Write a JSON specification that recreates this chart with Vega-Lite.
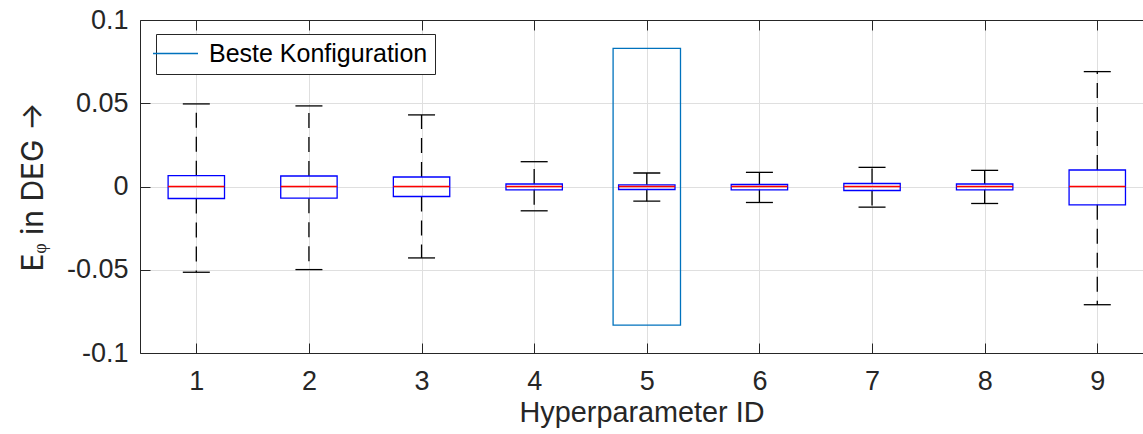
{
  "$schema": "https://vega.github.io/schema/vega-lite/v6.json",
  "width": 1003,
  "height": 333,
  "autosize": {"type": "none"},
  "padding": {"left": 140, "top": 20, "right": 0, "bottom": 81},
  "background": "white",
  "config": {
    "font": "Liberation Sans",
    "view": {"stroke": null},
    "axis": {"domainColor": "#262626", "tickColor": "#262626", "labelColor": "#262626", "titleColor": "#262626", "gridColor": "#dfdfdf", "gridWidth": 1, "domainWidth": 1, "tickWidth": 1, "titleFontWeight": "normal", "labelFont": "Liberation Sans", "titleFont": "Liberation Sans"}
  },
  "datasets": {
    "boxes": [
      {"id": 1, "lower": -0.0515, "q1": -0.0072, "median": 0, "q3": 0.0065, "upper": 0.0496},
      {"id": 2, "lower": -0.0499, "q1": -0.0070, "median": 0, "q3": 0.0063, "upper": 0.0484},
      {"id": 3, "lower": -0.0429, "q1": -0.0060, "median": 0, "q3": 0.0057, "upper": 0.0430},
      {"id": 4, "lower": -0.0146, "q1": -0.0020, "median": 0, "q3": 0.0015, "upper": 0.0149},
      {"id": 5, "lower": -0.0088, "q1": -0.0018, "median": 0, "q3": 0.0010, "upper": 0.0081},
      {"id": 6, "lower": -0.0096, "q1": -0.0020, "median": 0, "q3": 0.0012, "upper": 0.0085},
      {"id": 7, "lower": -0.0124, "q1": -0.0024, "median": 0, "q3": 0.0018, "upper": 0.0115},
      {"id": 8, "lower": -0.0102, "q1": -0.0020, "median": 0, "q3": 0.0015, "upper": 0.0097},
      {"id": 9, "lower": -0.0710, "q1": -0.0110, "median": 0, "q3": 0.0099, "upper": 0.0690}
    ],
    "best": [
      {"id": 5, "low": -0.0833, "high": 0.0829, "label": "Beste Konfiguration"}
    ]
  },
  "resolve": {"axis": {"x": "independent"}},
  "layer": [
    {
      "data": {"name": "best"},
      "mark": {"type": "bar", "filled": false, "width": 67.4, "strokeWidth": 1.3},
      "encoding": {
        "x": {"field": "id", "type": "quantitative",
          "scale": {"domain": [0.5, 9.406], "nice": false, "zero": false, "padding": 0},
          "axis": {"orient": "bottom", "values": [1,2,3,4,5,6,7,8,9], "format": "d", "tickSize": -10, "labelPadding": 25, "labelFontSize": 27, "labelFlush": false, "title": "Hyperparameter ID", "titleFontSize": 28.8, "titlePadding": 4, "grid": true}},
        "y": {"field": "low", "type": "quantitative",
          "scale": {"domain": [-0.1, 0.1], "nice": false, "zero": false, "padding": 0},
          "axis": {"orient": "left", "values": [-0.1, -0.05, 0, 0.05, 0.1], "labelExpr": "replace(format(datum.value, '~g'), '\u2212', '-')", "tickSize": -10, "labelPadding": 22, "labelFontSize": 27, "title": "Eᵩ in DEG →", "titleFont": "Inter", "titleFontSize": 30, "titlePadding": 18, "grid": true}},
        "y2": {"field": "high"},
        "color": {"field": "label", "type": "nominal", "scale": {"range": ["#0072BD"]},
          "legend": {"title": null, "orient": "none", "legendX": 16, "legendY": 14, "symbolType": "M-2.5,0H2.5", "symbolSize": 324, "symbolStrokeWidth": 1.3, "labelFontSize": 25, "labelColor": "#000000", "labelFont": "Liberation Sans", "labelOffset": 21, "labelLimit": 0, "strokeColor": "#262626", "fillColor": "white", "padding": 7, "cornerRadius": 0}}
      }
    },
    {
      "data": {"name": "boxes"},
      "mark": {"type": "rule", "color": "#000000", "strokeWidth": 1.3, "strokeDash": [15, 9]},
      "encoding": {
        "x": {"field": "id", "type": "quantitative", "axis": null},
        "y": {"field": "q3", "type": "quantitative"},
        "y2": {"field": "upper"}
      }
    },
    {
      "data": {"name": "boxes"},
      "mark": {"type": "rule", "color": "#000000", "strokeWidth": 1.3, "strokeDash": [15, 9]},
      "encoding": {
        "x": {"field": "id", "type": "quantitative", "axis": null},
        "y": {"field": "q1", "type": "quantitative"},
        "y2": {"field": "lower"}
      }
    },
    {
      "data": {"name": "boxes"},
      "mark": {"type": "tick", "orient": "horizontal", "size": 27, "thickness": 1.3, "color": "#000000", "opacity": 1},
      "encoding": {
        "x": {"field": "id", "type": "quantitative",
          "axis": {"orient": "top", "values": [1,2,3,4,5,6,7,8,9], "labels": false, "tickSize": -10, "title": null, "grid": false}},
        "y": {"field": "upper", "type": "quantitative"}
      }
    },
    {
      "data": {"name": "boxes"},
      "mark": {"type": "tick", "orient": "horizontal", "size": 27, "thickness": 1.3, "color": "#000000", "opacity": 1},
      "encoding": {
        "x": {"field": "id", "type": "quantitative", "axis": null},
        "y": {"field": "lower", "type": "quantitative"}
      }
    },
    {
      "data": {"name": "boxes"},
      "mark": {"type": "bar", "filled": false, "width": 56.4, "stroke": "#0000FF", "strokeWidth": 1.3},
      "encoding": {
        "x": {"field": "id", "type": "quantitative", "axis": null},
        "y": {"field": "q1", "type": "quantitative"},
        "y2": {"field": "q3"}
      }
    },
    {
      "data": {"name": "boxes"},
      "mark": {"type": "tick", "orient": "horizontal", "size": 56.4, "thickness": 1.3, "color": "#FF0000", "opacity": 1},
      "encoding": {
        "x": {"field": "id", "type": "quantitative", "axis": null},
        "y": {"field": "median", "type": "quantitative"}
      }
    }
  ]
}
